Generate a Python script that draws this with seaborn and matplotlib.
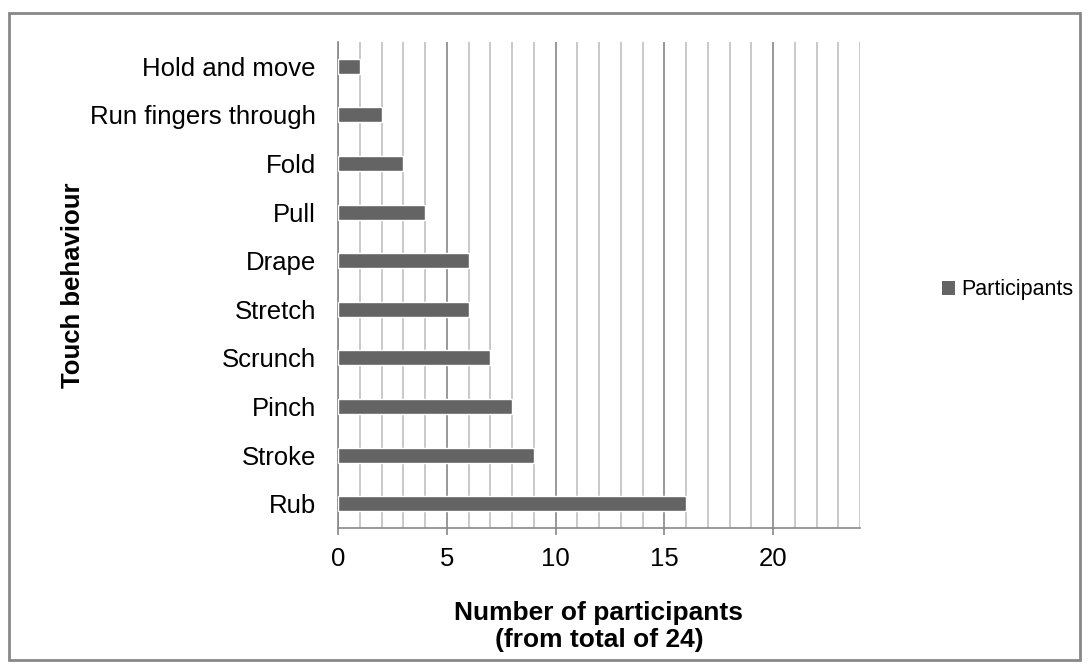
import matplotlib
matplotlib.use("Agg")
import matplotlib.pyplot as plt
from matplotlib.patches import Rectangle, Patch
from matplotlib.ticker import MultipleLocator
import seaborn as sns
import pandas as pd

behaviours = ["Hold and move", "Run fingers through", "Fold", "Pull", "Drape",
              "Stretch", "Scrunch", "Pinch", "Stroke", "Rub"]
participants = [1, 2, 3, 4, 6, 6, 7, 8, 9, 16]
total = 24

df = pd.DataFrame({"Touch behaviour": behaviours, "Participants": participants})

sns.set_theme(style="white")
plt.rcParams["font.family"] = ["Liberation Sans", "DejaVu Sans"]
plt.rcParams.update({"text.color": "black", "axes.labelcolor": "black",
                     "xtick.labelcolor": "black", "ytick.labelcolor": "black"})

BAR = "#646464"
fig = plt.figure(figsize=(10.89, 6.71), dpi=100)
ax = fig.add_axes([338 / 1089, 1 - 528 / 671, 522 / 1089, 486 / 671])

sns.barplot(data=df, x="Participants", y="Touch behaviour", order=behaviours,
            color=BAR, width=0.31, saturation=1, ax=ax, zorder=3)

ax.set_xlim(0, total)
ax.xaxis.set_major_locator(MultipleLocator(5))
ax.xaxis.set_minor_locator(MultipleLocator(1))
ax.grid(which="minor", axis="x", color="#c0c0c0", linewidth=1.2, zorder=0)
ax.grid(which="major", axis="x", color="#888888", linewidth=1.2, zorder=0)
ax.set_axisbelow(True)

for s in ["top", "right"]:
    ax.spines[s].set_visible(False)
for s in ["left", "bottom"]:
    ax.spines[s].set_color("#888888")
    ax.spines[s].set_linewidth(1.2)

ax.tick_params(axis="x", which="major", direction="out", length=5, width=1.2,
               color="#888888", labelcolor="black", labelsize=18.5, pad=9,
               bottom=True)
ax.tick_params(axis="x", which="minor", length=0)
ax.tick_params(axis="y", length=0, labelcolor="black", labelsize=18.5, pad=16)

ax.set_xlabel("Number of participants\n(from total of 24)", fontsize=19,
              fontweight="bold", linespacing=1.17, color="black")
ax.xaxis.set_label_coords(0.5, -0.15)
ax.xaxis.label.set_va("top")
ax.set_ylabel("Touch behaviour", fontsize=18.5, fontweight="bold", color="black")
ax.yaxis.set_label_coords(-0.485, 0.5)

handle = Patch(facecolor=BAR, edgecolor="none")
fig.legend([handle], ["Participants"], loc="center left",
           bbox_to_anchor=(942 / 1089, 1 - 290 / 671), frameon=False,
           fontsize=15.5, labelcolor="black", handlelength=0.6, handleheight=0.6,
           handletextpad=0.3, borderaxespad=0, borderpad=0)

fig.patches.append(Rectangle((9 / 1089, 1 - 660 / 671), 1071 / 1089, 647 / 671,
                             transform=fig.transFigure, fill=False,
                             edgecolor="#888888", linewidth=2))

fig.savefig("out.png", dpi=100, facecolor="white")
